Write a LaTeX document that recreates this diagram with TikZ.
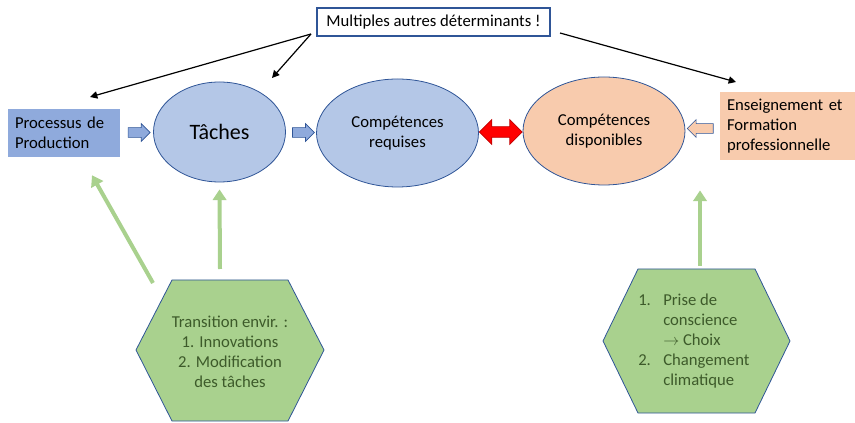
\documentclass[tikz,border=0pt]{standalone}
\usepackage{fontspec}
\setmainfont{Carlito}
\usetikzlibrary{arrows.meta,positioning,calc,shapes.arrows,shapes.geometric}
\definecolor{navy}{HTML}{2F5597}
\definecolor{procblue}{HTML}{8FAADC}
\definecolor{paleblue}{HTML}{B4C7E7}
\definecolor{peach}{HTML}{F8CBAD}
\definecolor{leafgreen}{HTML}{A9D18E}
\definecolor{hextext}{HTML}{3D5A2A}
\definecolor{darkred}{HTML}{C00000}

\begin{document}
\begin{tikzpicture}[x=0.75pt,y=-0.75pt,
 txt/.style={font=\fontsize{12.5}{15}\selectfont},
 box/.style={txt,inner sep=0pt,align=left},
 ell/.style={ellipse,draw=navy,line width=0.6pt,inner sep=0pt,align=center,txt,minimum width=121.5pt,minimum height=81pt},
 blockarr/.style={single arrow,draw=navy,line width=0.5pt,inner xsep=0pt,inner ysep=3.4pt,minimum height=16.5pt,single arrow head extend=3pt},
 blk/.style={-{Triangle[length=5.5pt,width=5.5pt]},line width=0.9pt},
 grn/.style={-{Triangle[length=8pt,width=10pt]},line width=3pt,leafgreen},
 hexa/.style={draw=navy,line width=0.6pt,fill=leafgreen}]
\useasboundingbox (0,0) rectangle (855,423);
% top box
\node[draw=navy,line width=1.1pt,fill=white,minimum width=175pt,minimum height=21pt,txt] (autres) at (433.5,22) {Multiples autres déterminants !};
% main row
\node[box,fill=procblue,minimum width=84pt,minimum height=36pt,text width=73.5pt] (proc) at (64,133) {Processus de\\Production};
\node[ell,fill=paleblue,minimum width=99pt,minimum height=75pt,font=\fontsize{16.5}{19}\selectfont] (taches) at (219.5,132) {Tâches};
\node[ell,fill=paleblue] (requises) at (397.5,133) {Compétences\\requises};
\node[ell,fill=peach] (dispo) at (604,131) {Compétences\\disponibles};
\node[box,fill=peach,minimum width=101pt,minimum height=51pt,text width=90.75pt] (ensei) at (787.5,126) {Enseignement et\\Formation\\professionnelle};
% block arrows
\node[blockarr,fill=procblue] (a1) at ($(proc.east)!0.5!(taches.west)$) {};
\node[blockarr,fill=procblue] (a2) at ($(taches.east)!0.5!(requises.west)$) {};
\node[double arrow,draw=darkred,line width=0.5pt,fill=red,inner xsep=0pt,inner ysep=3.75pt,minimum height=32pt,double arrow head extend=5.25pt] (a3) at ($(requises.east)!0.5!(dispo.west)$) {};
\node[blockarr,fill=peach,shape border rotate=180,minimum height=19.5pt] (a4) at ($(dispo.east)!0.5!(ensei.west)$) {};
% black arrows
\coordinate (fromL) at (311,34);
\coordinate (fromR) at (560,33);
\coordinate (toproc) at (90,97);
\coordinate (totach) at (272,78);
\coordinate (toens) at (736,82);
\draw[blk] (fromL) -- (toproc);
\draw[blk] (fromL) -- (totach);
\draw[blk] (fromR) -- (toens);
% hexagons
\draw[hexa] (136,350) -- (172,280) -- (288,280) -- (324,350) -- (288,421) -- (172,421) -- cycle;
\node[txt,text=hextext,align=center] (transit) at (230,352) {Transition envir. :\\1. Innovations\\2. Modification\\des tâches};
\draw[hexa] (603,341) -- (638,269) -- (755,269) -- (790,341) -- (755,413) -- (638,413) -- cycle;
\node[txt,text=hextext,anchor=west,inner sep=0pt] (prise) at (638,341) {\begin{tabular}{@{}p{18.75pt}@{}l@{}}1.&Prise de\\&conscience\\&$\rightarrow$ Choix\\2.&Changement\\&climatique\end{tabular}};
% green arrows
\coordinate (g1) at (153,283);
\coordinate (g2) at (220,269);
\coordinate (g3) at (700,266);
\draw[grn] (g1) -- ([shift={(28,18)}]proc.south);
\draw[grn] (g2) -- ([yshift=-7*0.75pt]taches.south);
\draw[grn] (g3) -- ([yshift=-5*0.75pt]dispo.south -| g3);
\end{tikzpicture}
\end{document}
